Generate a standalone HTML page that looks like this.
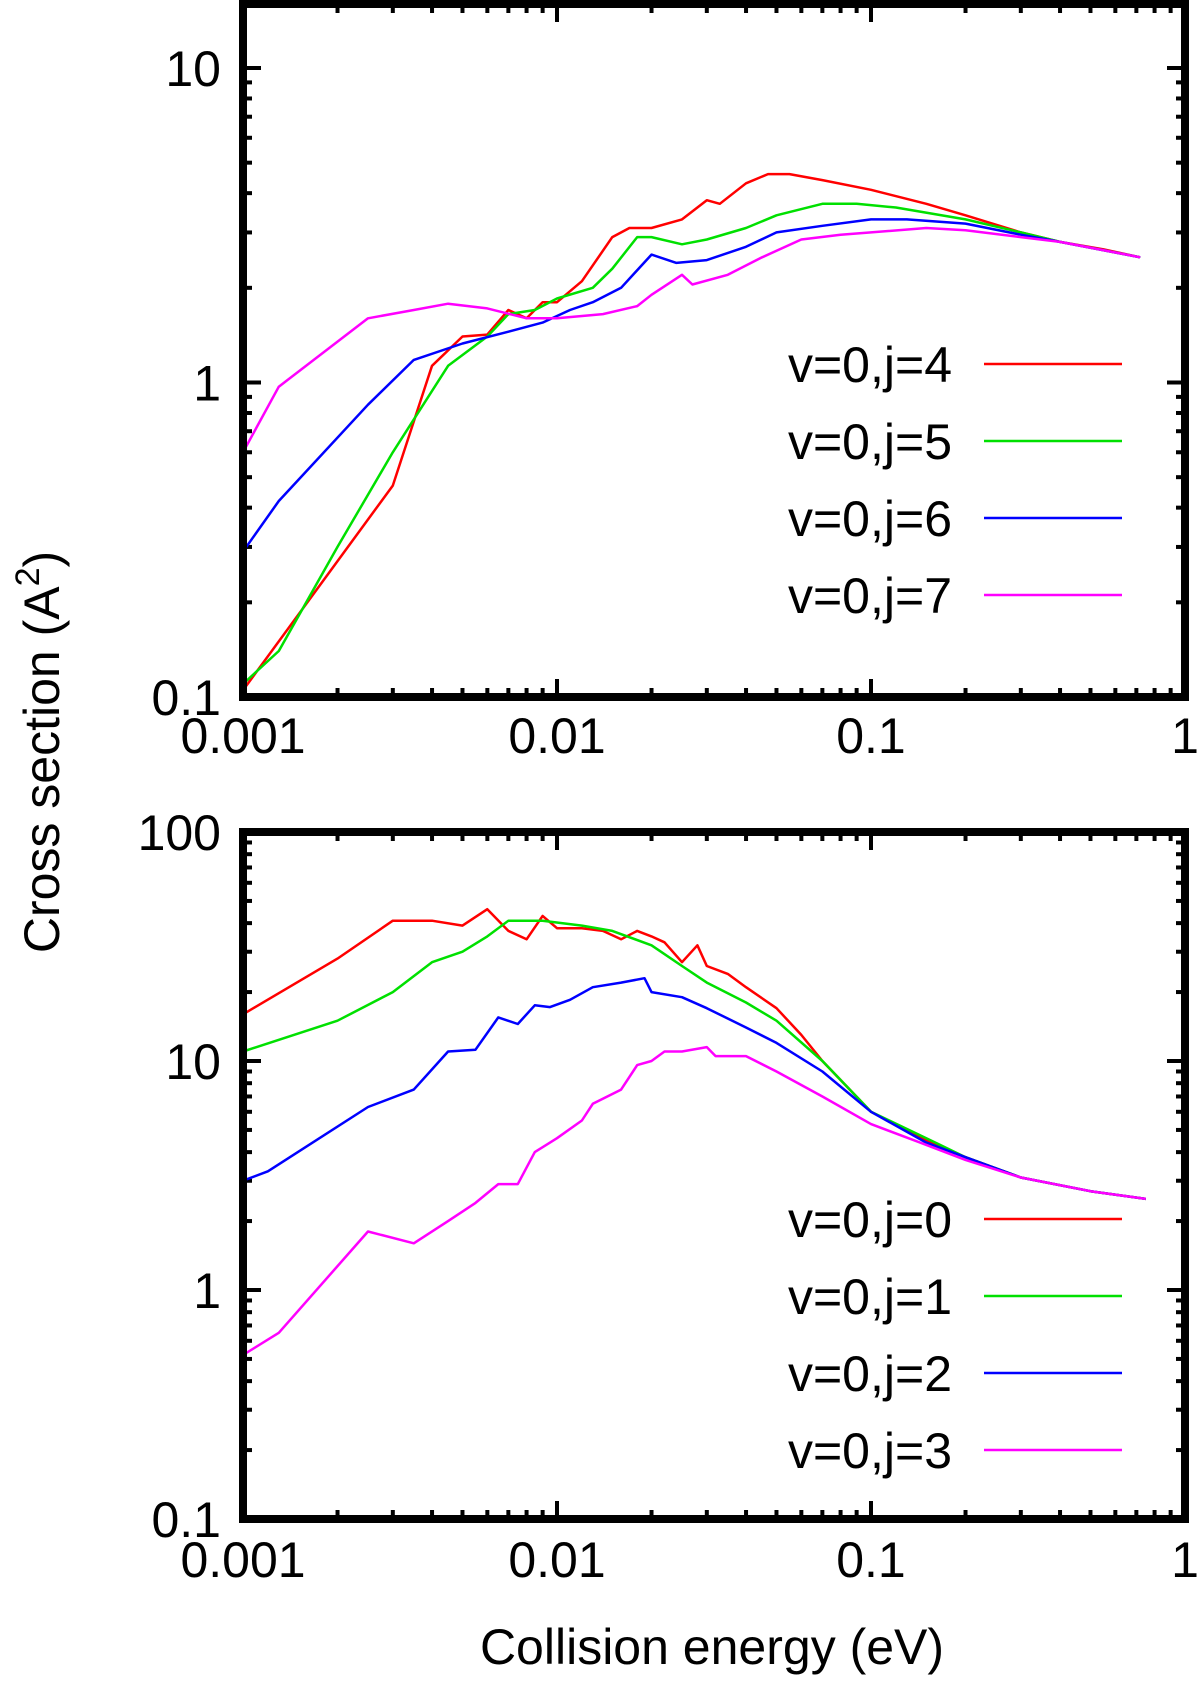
<!DOCTYPE html>
<html><head><meta charset="utf-8"><style>
html,body{margin:0;padding:0;background:#fff;}
svg{display:block;font-family:"Liberation Sans",sans-serif;}
</style></head><body>
<svg id="chart" width="1200" height="1684" viewBox="0 0 1200 1684" xmlns="http://www.w3.org/2000/svg">
<text x="0" y="0" font-size="50" text-anchor="middle" transform="translate(59,752) rotate(-90)">Cross section (A<tspan dy="-20" font-size="34">2</tspan><tspan dy="20">)</tspan></text>
<text x="712" y="1664" font-size="50" text-anchor="middle">Collision energy (eV)</text>
</svg>
<script>
const xTicks=[0.001,0.01,0.1,1];
const xTickLabels=["0.001","0.01","0.1","1"];
const topYTicks=[0.1,1,10];
const topYTickLabels=["0.1","1","10"];
const botYTicks=[0.1,1,10,100];
const botYTickLabels=["0.1","1","10","100"];
const topLabels=["v=0,j=4","v=0,j=5","v=0,j=6","v=0,j=7"];
const botLabels=["v=0,j=0","v=0,j=1","v=0,j=2","v=0,j=3"];
const colors=["#ff0000","#00e000","#0000ff","#ff00ff"];
const j4E=[0.001,0.003,0.004,0.005,0.006,0.007,0.008,0.009,0.01,0.012,0.015,0.017,0.02,0.025,0.03,0.033,0.04,0.047,0.055,0.07,0.1,0.15,0.2,0.3,0.4,0.55,0.72];
const j4S=[0.105,0.47,1.13,1.4,1.42,1.7,1.6,1.8,1.8,2.1,2.9,3.1,3.1,3.3,3.8,3.7,4.3,4.6,4.6,4.4,4.1,3.7,3.4,3.0,2.8,2.65,2.5];
const j5E=[0.001,0.0013,0.002,0.003,0.0045,0.006,0.007,0.0085,0.01,0.013,0.015,0.018,0.02,0.025,0.03,0.04,0.05,0.07,0.09,0.12,0.2,0.3,0.4,0.72];
const j5S=[0.11,0.14,0.3,0.6,1.13,1.4,1.65,1.7,1.85,2.0,2.3,2.9,2.9,2.75,2.85,3.1,3.4,3.7,3.7,3.6,3.3,3.0,2.8,2.5];
const j6E=[0.001,0.0013,0.0025,0.0035,0.005,0.007,0.009,0.011,0.013,0.016,0.02,0.024,0.03,0.04,0.05,0.07,0.1,0.13,0.2,0.3,0.4,0.72];
const j6S=[0.29,0.42,0.85,1.18,1.33,1.45,1.55,1.7,1.8,2.0,2.55,2.4,2.45,2.7,3.0,3.15,3.3,3.3,3.2,2.95,2.8,2.5];
const j7E=[0.001,0.0013,0.0025,0.0035,0.0045,0.006,0.008,0.01,0.014,0.018,0.02,0.025,0.027,0.035,0.045,0.06,0.08,0.1,0.15,0.2,0.3,0.4,0.72];
const j7S=[0.6,0.97,1.6,1.7,1.78,1.72,1.6,1.6,1.65,1.75,1.9,2.2,2.05,2.2,2.5,2.85,2.95,3.0,3.1,3.05,2.9,2.8,2.5];
const j0E=[0.001,0.002,0.003,0.004,0.005,0.006,0.007,0.008,0.009,0.01,0.012,0.014,0.016,0.018,0.02,0.022,0.025,0.028,0.03,0.035,0.04,0.05,0.06,0.07,0.1,0.15,0.2,0.3,0.5,0.75];
const j0S=[16,28,41,41,39,46,37,34,43,38,38,37,34,37,35,33,27,32,26,24,21,17,13,10,6.0,4.5,3.8,3.1,2.7,2.5];
const j1E=[0.001,0.002,0.003,0.004,0.005,0.006,0.007,0.009,0.012,0.015,0.02,0.025,0.03,0.04,0.05,0.07,0.1,0.15,0.2,0.3,0.5,0.75];
const j1S=[11,15,20,27,30,35,41,41,39,37,32,26,22,18,15,10,6.0,4.6,3.8,3.1,2.7,2.5];
const j2E=[0.001,0.0012,0.0025,0.0035,0.0045,0.0055,0.0065,0.0075,0.0085,0.0095,0.011,0.013,0.016,0.019,0.02,0.025,0.03,0.04,0.05,0.07,0.1,0.15,0.2,0.3,0.5,0.75];
const j2S=[3,3.3,6.3,7.5,11,11.2,15.5,14.5,17.5,17.2,18.5,21,22,23,20,19,17,14,12,9,6,4.4,3.8,3.1,2.7,2.5];
const j3E=[0.001,0.0013,0.0025,0.0035,0.0045,0.0055,0.0065,0.0075,0.0085,0.01,0.012,0.013,0.016,0.018,0.02,0.022,0.025,0.03,0.032,0.04,0.05,0.07,0.1,0.15,0.2,0.3,0.5,0.75];
const j3S=[0.52,0.65,1.8,1.6,2.0,2.4,2.9,2.9,4.0,4.6,5.5,6.5,7.5,9.6,10,11,11,11.5,10.5,10.5,9,7,5.3,4.3,3.7,3.1,2.7,2.5];

const NS="http://www.w3.org/2000/svg";
const svg=document.getElementById('chart');
function mk(tag,attrs,parent){const e=document.createElementNS(NS,tag);for(const k in attrs)e.setAttribute(k,attrs[k]);(parent||svg).appendChild(e);return e;}
const L=243,R=1185;
function xs(E){return L+(Math.log10(E)+3)*(R-L)/3;}

function panel(name,yMinLog,yPx0,pxPerDec,top,bottom,yTicks,yLabels,series,labels,legendY,xLabOff){
  const g=mk('g',{});
  
  
  const ys=v=>yPx0-(Math.log10(v)-yMinLog)*pxPerDec;
  const tg=mk('g',{stroke:'#000','stroke-width':4},g);
  for(let d=-3;d<0;d++)for(let m=1;m<10;m++){
    const x=xs(m*Math.pow(10,d)); const len=m==1?18:9;
    if(m==1&&d==-3)continue;
    mk('line',{x1:x,y1:bottom,x2:x,y2:bottom-len},tg);
    mk('line',{x1:x,y1:top,x2:x,y2:top+len},tg);
  }
  const yMaxLog=yMinLog+(yPx0-top)/pxPerDec;
  for(let d=Math.floor(yMinLog);d<=Math.ceil(yMaxLog);d++)for(let m=1;m<10;m++){
    const lv=d+Math.log10(m); if(lv<=yMinLog+1e-6||lv>=yMaxLog)continue;
    const y=ys(Math.pow(10,lv)); const len=m==1?18:9;
    mk('line',{x1:L,y1:y,x2:L+len,y2:y},tg);
    mk('line',{x1:R,y1:y,x2:R-len,y2:y},tg);
  }
  yTicks.forEach((v,i)=>{const t=mk('text',{x:221,y:ys(v)+18,'font-size':50,'text-anchor':'end'},g);t.textContent=yLabels[i];
    });
  xTicks.forEach((v,i)=>{const t=mk('text',{x:xs(v),y:bottom+xLabOff,'font-size':50,'text-anchor':'middle'},g);t.textContent=xTickLabels[i];
    });
  series.forEach((s,i)=>{
    const pts=s[0].map((E,k)=>xs(E).toFixed(1)+','+ys(s[1][k]).toFixed(1)).join(' ');
    const p=mk('polyline',{points:pts,fill:'none',stroke:colors[i],'stroke-width':2.5,'stroke-linejoin':'round'},g);
    
    
    const ly=legendY+i*77;
    const t=mk('text',{x:952,y:ly+18,'font-size':50,'text-anchor':'end'},g);t.textContent=labels[i];
    
    const ln=mk('line',{x1:984,y1:ly,x2:1122,y2:ly,stroke:colors[i],'stroke-width':2.5},g);
    
  });
  const fr=mk('rect',{x:L,y:top,width:R-L,height:bottom-top,fill:'none',stroke:'#000','stroke-width':8},g);
  
}
panel('top-panel',-1,697,314.5,4,697,topYTicks,topYTickLabels,[[j4E,j4S],[j5E,j5S],[j6E,j6S],[j7E,j7S]],topLabels,364,56);
panel('bottom-panel',-1,1519,229,832,1519,botYTicks,botYTickLabels,[[j0E,j0S],[j1E,j1S],[j2E,j2S],[j3E,j3S]],botLabels,1219,58);
</script>
</body></html>
